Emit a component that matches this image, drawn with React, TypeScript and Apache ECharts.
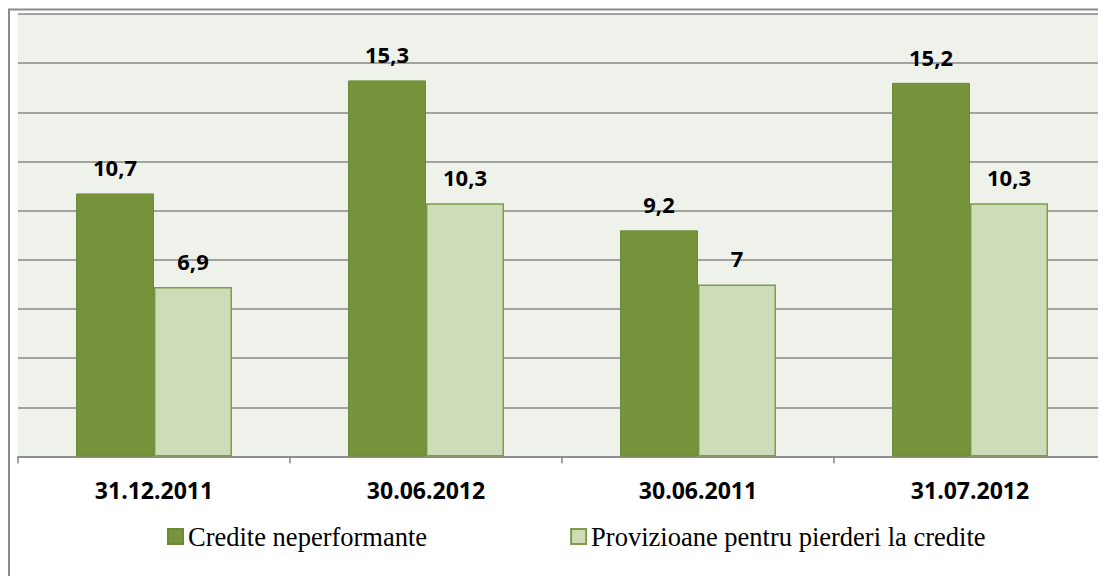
import React, { useEffect, useRef } from "react";
import * as echarts from "echarts";

const categories = ["31.12.2011", "30.06.2012", "30.06.2011", "31.07.2012"];
const seriesNames = ["Credite neperformante", "Provizioane pentru pierderi la credite"];
const crediteNeperformante = [10.7, 15.3, 9.2, 15.2];
const provizioane = [6.9, 10.3, 7, 10.3];
const yMin = 0;
const yMax = 18;
const yInterval = 2;

const fmt = (p: any) => String(p.value).replace(".", ",");

export default function App() {
  const ref = useRef<HTMLDivElement>(null);
  useEffect(() => {
    if (!ref.current) return;
    const chart = echarts.init(ref.current, undefined, { renderer: "svg" });
    const labelStyle = {
      show: true,
      position: "top" as const,
      distance: 15,
      formatter: fmt,
      fontFamily: "Open Sans",
      fontWeight: "bold" as const,
      fontSize: 22,
      color: "#000000",
    };
    chart.setOption({
      animation: false,
      backgroundColor: "#ffffff",
      grid: {
        left: 10,
        top: 6,
        width: 1091,
        height: 442.5,
        show: true,
        backgroundColor: "#EFF2EA",
        borderWidth: 0,
      },
      legend: {
        left: 159,
        top: 515,
        padding: 0,
        itemGap: 143,
        itemWidth: 15,
        itemHeight: 15,
        icon: "rect",
        textStyle: {
          fontFamily: "Liberation Serif",
          fontSize: 26.5,
          color: "#000000",
        },
        data: seriesNames,
      },
      xAxis: {
        type: "category",
        data: categories,
        axisLine: { show: true, lineStyle: { color: "#878787", width: 1.5 } },
        axisTick: { show: true, length: 7, lineStyle: { color: "#878787", width: 1.5 } },
        axisLabel: {
          margin: 22,
          fontFamily: "Open Sans",
          fontWeight: "bold",
          fontSize: 23,
          color: "#000000",
        },
        splitLine: { show: false },
      },
      yAxis: {
        type: "value",
        min: yMin,
        max: yMax,
        interval: yInterval,
        axisLine: { show: false },
        axisTick: { show: false },
        axisLabel: { show: false },
        splitLine: { show: true, lineStyle: { color: "#898989", width: 1.5 } },
      },
      series: [
        {
          name: seriesNames[0],
          type: "bar",
          data: crediteNeperformante,
          barWidth: 78,
          barGap: "0%",
          itemStyle: { color: "#77933C", borderColor: "#6C8A35", borderWidth: 1 },
          label: labelStyle,
        },
        {
          name: seriesNames[1],
          type: "bar",
          data: provizioane,
          barWidth: 78,
          barGap: "0%",
          itemStyle: { color: "#CFDCB9", borderColor: "#7E9C4A", borderWidth: 1.5 },
          label: labelStyle,
        },
      ],
      graphic: [
        {
          type: "rect",
          silent: true,
          z: 100,
          shape: { x: 1, y: 1.5, width: 3000, height: 3000 },
          style: { fill: "none", stroke: "#8A8A8A", lineWidth: 2 },
        },
      ],
    });
    return () => chart.dispose();
  }, []);
  return <div ref={ref} style={{ width: 1098, height: 568 }} />;
}
